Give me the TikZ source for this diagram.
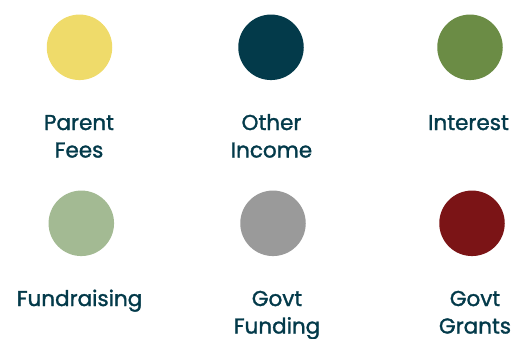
\documentclass[tikz,border=0pt]{standalone}
\usepackage{fontspec}
\setmainfont{Poppins}[FakeBold=1.4]
\usetikzlibrary{positioning}
\definecolor{feeyellow}{HTML}{EFDB6A}
\definecolor{darkteal}{HTML}{033A4A}
\definecolor{leafgreen}{HTML}{6B8C45}
\definecolor{sagegreen}{HTML}{A3BA93}
\definecolor{midgrey}{HTML}{9A9A9A}
\definecolor{darkred}{HTML}{7B1416}
\tikzset{
  dot/.style={circle, minimum size=65.5pt, inner sep=0pt},
  lbl/.style={anchor=base, align=center, text=darkteal, font=\fontsize{21.5}{27.5}\selectfont, inner sep=0pt}
}

\begin{document}
\begin{tikzpicture}[x=1pt,y=-1pt]
    \useasboundingbox (0,0) rectangle (516,338);

    % Top row
    \node[dot, fill=feeyellow] (fees) at (79.5,47.3) {};
    \node[dot, fill=darkteal] (other) at (271,47.3) {};
    \node[dot, fill=leafgreen] (interest) at (470,47.3) {};
    \node[lbl] (feesL) at (79,157.5) {Parent\\Fees};
    \node[lbl] (otherL) at (271.5,157.5) {Other\\Income};
    \node[lbl] (interestL) at (468.5,130) {Interest};

    % Bottom row
    \node[dot, fill=sagegreen] (fund) at (81.3,223.3) {};
    \node[dot, fill=midgrey] (govf) at (273,223.3) {};
    \node[dot, fill=darkred] (govg) at (472,223.3) {};
    \node[lbl] (fundL) at (79.5,306) {Fundraising};
    \node[lbl] (govfL) at (277,333.5) {Govt\\Funding};
    \node[lbl] (govgL) at (475,333.5) {Govt\\Grants};
\end{tikzpicture}
\end{document}
